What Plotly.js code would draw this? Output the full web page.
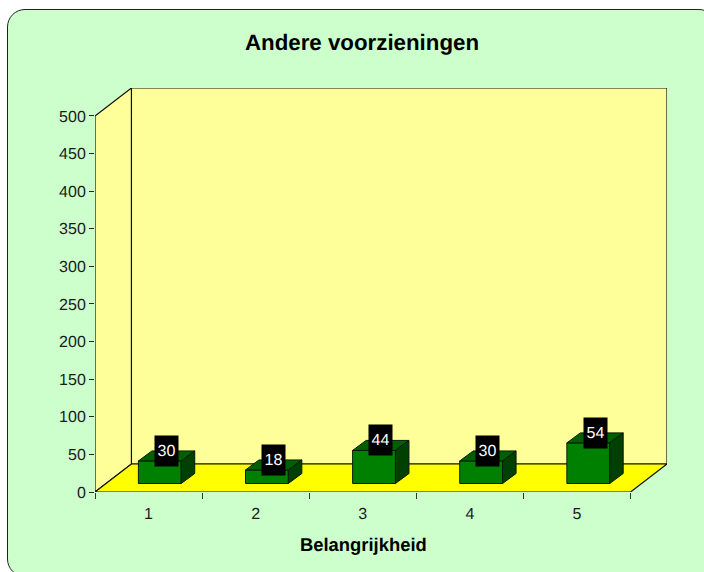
<!DOCTYPE html>
<html>
<head>
<meta charset="utf-8">
<script src="https://cdn.plot.ly/plotly-3.0.1.min.js"></script>
<style>
html,body{margin:0;padding:0;width:704px;height:572px;overflow:hidden;background:#fff;}
#frame{position:absolute;left:7px;top:9px;width:710px;height:568px;box-sizing:border-box;border:1.5px solid #222;border-radius:18px;background:#CCFFCC;}
#chart{position:absolute;left:0;top:0;width:704px;height:572px;}
svg text{text-rendering:geometricPrecision;}
</style>
</head>
<body>
<div id="frame"></div>
<div id="chart"></div>
<script>
const categories = [1, 2, 3, 4, 5];
const values = [30, 18, 44, 30, 54];
const yTicks = [0, 50, 100, 150, 200, 250, 300, 350, 400, 450, 500];
const xBoundaries = [0.5, 1.5, 2.5, 3.5, 4.5, 5.5];
const titleText = 'Andere voorzieningen';
const xTitleText = 'Belangrijkheid';

// 3D projection settings, in axis units
const wallDx = 0.34, wallDy = 37.2, yMax = 500, xMin = 0.5, xMax = 5.5;
const barShift = 0.105, barWidth = 0.4, barBase = 11.3, barDx = 0.126, barDy = 13.3;
const labelLift = 13.3;

const textColor = '#1a1a1a';
const lineCol = '#111';

function poly(pts, fill) {
  return {type:'path', layer:'below', xref:'x', yref:'y',
    path:'M' + pts.map(p => p[0] + ',' + p[1]).join(' L') + ' Z',
    fillcolor:fill, line:{color:lineCol, width:1.2}};
}
const shapes = [
  poly([[xMin+wallDx,wallDy],[xMax+wallDx,wallDy],[xMax+wallDx,yMax+wallDy],[xMin+wallDx,yMax+wallDy]], '#FFFF99'),
  poly([[xMin,0],[xMin+wallDx,wallDy],[xMin+wallDx,yMax+wallDy],[xMin,yMax]], '#FFFF99'),
  poly([[xMin,0],[xMax,0],[xMax+wallDx,wallDy],[xMin+wallDx,wallDy]], '#FFFF00')
];

const front = {
  type:'bar', x:categories.map(c => c + barShift), y:values,
  base:categories.map(() => barBase), width:barWidth,
  marker:{color:'#008000', line:{color:'#0a1a0a', width:1}}, hoverinfo:'skip'
};
function faceTrace(pts, color) {
  return {type:'scatter', mode:'lines', x:pts.map(p=>p[0]), y:pts.map(p=>p[1]),
    fill:'toself', fillcolor:color, line:{color:'#0a1a0a', width:1}, hoverinfo:'skip'};
}
const faces = [];
categories.forEach((c, i) => {
  const l = c + barShift - barWidth/2, r = c + barShift + barWidth/2;
  const b = barBase, t = barBase + values[i];
  faces.push(faceTrace([[l,t],[r,t],[r+barDx,t+barDy],[l+barDx,t+barDy],[l,t]], '#006000'));
  faces.push(faceTrace([[r,b],[r+barDx,b+barDy],[r+barDx,t+barDy],[r,t],[r,b]], '#004000'));
});

const annotations = categories.map((c, i) => ({
  x:c + barShift + barDx/2, y:barBase + values[i] + labelLift, xref:'x', yref:'y',
  text:String(values[i]), showarrow:false, width:23, height:30, bgcolor:'#000',
  font:{family:'Liberation Sans', size:16, color:'#fff'}, align:'center', valign:'middle',
  borderpad:0
}));
annotations.push({
  xref:'paper', yref:'paper', x:269/573, y:-52/404, xanchor:'center', yanchor:'middle', showarrow:false,
  text:'<b>'+xTitleText+'</b>', font:{family:'Liberation Sans', size:18.4, color:'#000'}
});

Plotly.newPlot('chart', [front].concat(faces), {
  width:704, height:572, autosize:false,
  paper_bgcolor:'rgba(0,0,0,0)', plot_bgcolor:'rgba(0,0,0,0)',
  margin:{l:94.5, r:36.5, t:88, b:80, pad:0},
  showlegend:false, shapes:shapes, annotations:annotations,
  title:{text:'<b>'+titleText+'</b>', x:362/704, xanchor:'center', y:1-42/572, yanchor:'middle',
    font:{family:'Liberation Sans', size:22.3, color:'#000'}},
  xaxis:{range:[xMin, xMax+wallDx], tickmode:'array', tickvals:categories, ticktext:categories.map(String),
    ticks:'', showgrid:false, zeroline:false, showline:false, ticklabelstandoff:10,
    tickfont:{family:'Liberation Sans', size:16, color:textColor},
    minor:{tickmode:'array', tickvals:xBoundaries, ticks:'outside', ticklen:6, tickcolor:'#333', tickwidth:1, showgrid:false}},
  yaxis:{range:[0, yMax+wallDy], tickmode:'array', tickvals:yTicks, ticktext:yTicks.map(String),
    ticks:'outside', ticklen:5, tickcolor:'#222', tickwidth:1, showgrid:false, zeroline:false, showline:false,
    tickfont:{family:'Liberation Sans', size:16, color:textColor}}
}, {displayModeBar:false, staticPlot:true});
</script>
</body>
</html>
